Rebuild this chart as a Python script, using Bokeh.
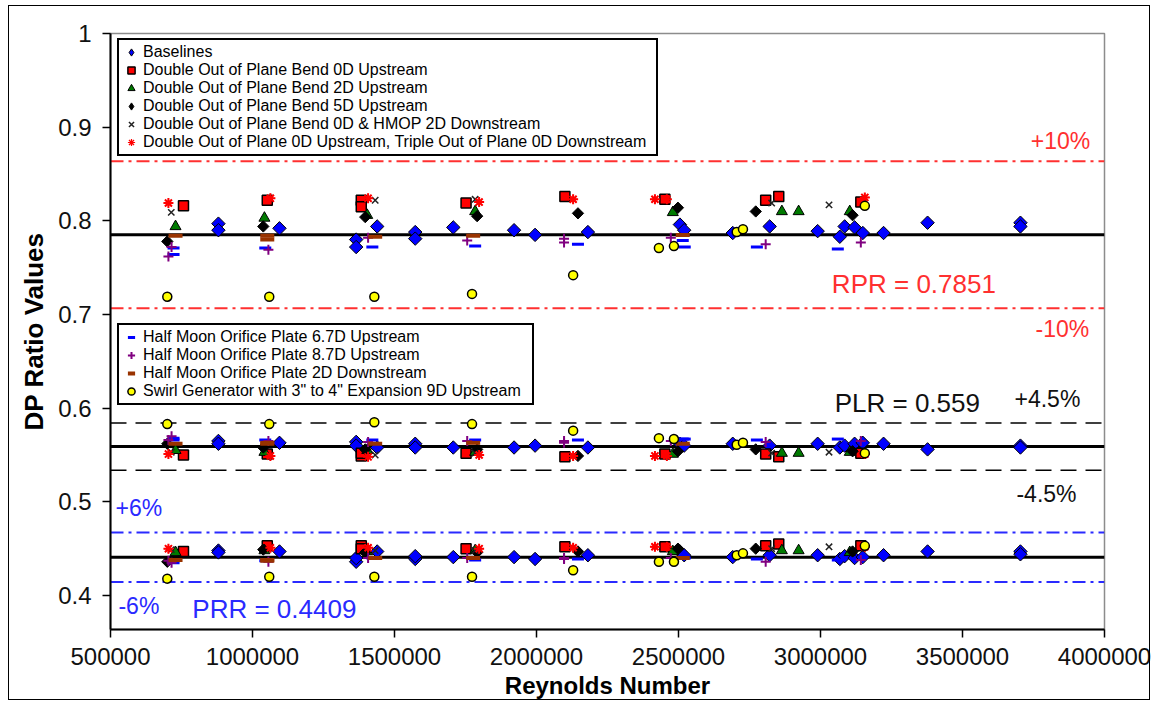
import numpy as np
from bokeh.plotting import figure
from bokeh.models import (ColumnDataSource, Span, Label, Legend, LegendItem,
                          FixedTicker, Range1d, InlineStyleSheet)
from bokeh.embed import file_html
from bokeh.resources import INLINE

# ---------------- reference values ----------------
RPR = 0.7851
PLR = 0.559
PRR = 0.4409
RPR_TOL = 0.10
PLR_TOL = 0.045
PRR_TOL = 0.06

x_ticks = [500000, 1000000, 1500000, 2000000, 2500000, 3000000, 3500000, 4000000]
x_tick_labels = ["500000", "1000000", "1500000", "2000000", "2500000", "3000000", "3500000", "4000000"]
y_ticks = [0.4, 0.5, 0.6, 0.7, 0.8, 0.9, 1.0]
y_tick_labels = ["0.4", "0.5", "0.6", "0.7", "0.8", "0.9", "1"]

# ---------------- series (Reynolds number, RPR / PLR / PRR ratio groups) ----------------
baseline_re = [880000, 880000, 1095000, 1365000, 1365000, 1439000, 1573000, 1573000, 1707000, 1921000,
               1995000, 2181000, 2505000, 2520000, 2691000, 2821000, 2990000, 3068000, 3085000, 3120000,
               3149000, 3222000, 3377000, 3704000, 3704000]
baseline_rpr = [0.797, 0.790, 0.792, 0.780, 0.772, 0.794, 0.788, 0.781, 0.793, 0.790,
                0.785, 0.788, 0.796, 0.790, 0.787, 0.794, 0.789, 0.783, 0.794, 0.793,
                0.787, 0.787, 0.798, 0.798, 0.794]
baseline_plr = [0.565, 0.562, 0.563, 0.564, 0.560, 0.558, 0.562, 0.558, 0.558, 0.558,
                0.560, 0.558, 0.562, 0.560, 0.562, 0.560, 0.562, 0.558, 0.560, 0.562,
                0.563, 0.562, 0.556, 0.560, 0.558]
baseline_prr = [0.448, 0.446, 0.447, 0.436, 0.440, 0.447, 0.439, 0.442, 0.441, 0.441,
                0.439, 0.443, 0.447, 0.443, 0.441, 0.443, 0.443, 0.439, 0.442, 0.440,
                0.441, 0.443, 0.447, 0.447, 0.444]

bend0d_re = [757000, 1052000, 1383000, 1383000, 1752000, 2100000, 2452000, 2807000, 2853000, 3142000]
bend0d_rpr = [0.816, 0.822, 0.822, 0.815, 0.819, 0.826, 0.823, 0.822, 0.826, 0.820]
bend0d_plr = [0.550, 0.551, 0.549, 0.552, 0.552, 0.548, 0.551, 0.551, 0.548, 0.552]
bend0d_prr = [0.447, 0.453, 0.453, 0.450, 0.450, 0.452, 0.452, 0.453, 0.455, 0.453]

bend2d_re = [729000, 1042000, 1404000, 1784000, 2480000, 2864000, 2923000, 3103000]
bend2d_rpr = [0.794, 0.803, 0.806, 0.810, 0.809, 0.810, 0.810, 0.810]
bend2d_plr = [0.555, 0.553, 0.555, 0.553, 0.551, 0.552, 0.552, 0.553]
bend2d_prr = [0.446, 0.448, 0.447, 0.448, 0.447, 0.448, 0.448, 0.446]

bend5d_re = [700000, 1038000, 1397000, 1791000, 2146000, 2498000, 2772000, 3113000]
bend5d_rpr = [0.778, 0.794, 0.804, 0.805, 0.808, 0.814, 0.810, 0.806]
bend5d_plr = [0.562, 0.558, 0.556, 0.556, 0.549, 0.554, 0.556, 0.554]
bend5d_prr = [0.436, 0.449, 0.446, 0.446, 0.447, 0.450, 0.450, 0.447]

hmop_bend_re = [714000, 1432000, 1784000, 2828000, 3030000]
hmop_bend_rpr = [0.809, 0.822, 0.823, 0.819, 0.817]
hmop_bend_plr = [0.553, 0.550, 0.552, 0.552, 0.553]
hmop_bend_prr = [0.449, 0.448, 0.448, 0.450, 0.452]

triple_re = [704000, 1063000, 1407000, 1798000, 2129000, 2417000, 2459000, 3156000]
triple_rpr = [0.819, 0.824, 0.824, 0.820, 0.823, 0.823, 0.823, 0.825]
triple_plr = [0.551, 0.549, 0.548, 0.550, 0.549, 0.549, 0.549, 0.551]
triple_prr = [0.450, 0.451, 0.451, 0.450, 0.451, 0.452, 0.452, 0.452]

hm67_re = [722000, 722000, 1045000, 1422000, 1784000, 2146000, 2515000, 2522000, 2776000, 3061000]
hm67_rpr = [0.771, 0.764, 0.771, 0.772, 0.773, 0.775, 0.779, 0.772, 0.772, 0.770]
hm67_plr = [0.568, 0.566, 0.566, 0.566, 0.566, 0.566, 0.567, 0.567, 0.566, 0.567]
hm67_prr = [0.435, 0.437, 0.437, 0.440, 0.438, 0.439, 0.440, 0.440, 0.439, 0.438]

hm87_re = [715000, 704000, 1056000, 1407000, 1756000, 2097000, 2097000, 2473000, 2807000, 3142000]
hm87_rpr = [0.772, 0.762, 0.769, 0.782, 0.779, 0.781, 0.777, 0.782, 0.775, 0.777]
hm87_plr = [0.570, 0.566, 0.565, 0.564, 0.565, 0.565, 0.563, 0.565, 0.564, 0.565]
hm87_prr = [0.435, 0.437, 0.436, 0.440, 0.440, 0.440, 0.439, 0.440, 0.436, 0.438]

hm2d_re = [729000, 1052000, 1052000, 1432000, 1777000, 2515000]
hm2d_rpr = [0.784, 0.784, 0.780, 0.783, 0.784, 0.785]
hm2d_plr = [0.562, 0.563, 0.562, 0.562, 0.563, 0.562]
hm2d_prr = [0.438, 0.438, 0.437, 0.440, 0.440, 0.440]

swirl_re = [700000, 1059000, 1429000, 1773000, 2129000, 2431000, 2484000, 2705000, 2727000, 3156000]
swirl_rpr = [0.719, 0.719, 0.719, 0.722, 0.742, 0.771, 0.773, 0.788, 0.791, 0.816]
swirl_plr = [0.583, 0.583, 0.585, 0.583, 0.576, 0.568, 0.567, 0.561, 0.563, 0.552]
swirl_prr = [0.418, 0.420, 0.420, 0.420, 0.427, 0.436, 0.436, 0.443, 0.445, 0.453]

FONT = "Liberation Sans"
RED = "#FF3030"
BLUE = "#2A2AFF"

p = figure(width=1159, height=707, output_backend="svg", toolbar_location=None,
           x_range=Range1d(500000, 4000000), y_range=Range1d(0.3637, 1.0),
           min_border_left=110, min_border_right=55, min_border_top=33, min_border_bottom=78)
# outer chart border (drawn over the canvas by a pseudo-element of the plot's host element)
p.stylesheets = [InlineStyleSheet(css=(
    ":host { position: relative; }\n"
    ":host::after { content: ''; position: absolute; left: 8px; top: 5px; width: 1142px; "
    "height: 695px; box-sizing: border-box; border: 1.5px solid black; "
    "pointer-events: none; z-index: 50; }"))]
p.xgrid.visible = False
p.ygrid.visible = False
p.outline_line_color = "#8c8c8c"
p.outline_line_width = 1.5
p.background_fill_color = "white"
p.border_fill_color = "white"

p.xaxis.ticker = FixedTicker(ticks=x_ticks)
p.yaxis.ticker = FixedTicker(ticks=y_ticks)
p.xaxis.major_label_overrides = dict(zip(x_ticks, x_tick_labels))
p.yaxis.major_label_overrides = dict(zip(y_ticks, y_tick_labels))
p.xaxis.axis_label = "Reynolds Number"
p.yaxis.axis_label = "DP Ratio Values"
for ax in (p.xaxis[0], p.yaxis[0]):
    ax.axis_line_color = "black"
    ax.axis_line_width = 2
    ax.major_tick_line_color = "black"
    ax.major_tick_line_width = 1.5
    ax.major_tick_in = 0
    ax.major_tick_out = 8
    ax.minor_tick_line_color = None
    ax.major_label_text_font = FONT
    ax.major_label_text_font_size = "24px"
    ax.major_label_text_color = "#111111"
    ax.axis_label_text_font = FONT
    ax.axis_label_text_font_style = "bold"
    ax.axis_label_text_color = "black"
p.xaxis.major_label_standoff = 10
p.xaxis.axis_label_standoff = 4
p.xaxis.axis_label_text_font_size = "24px"
p.yaxis.major_label_standoff = 11
p.yaxis.axis_label_standoff = 6
p.yaxis.axis_label_text_font_size = "26px"

# reference lines
def span(loc, color, width, dash="solid"):
    p.add_layout(Span(location=loc, dimension="width", line_color=color,
                      line_width=width, line_dash=dash, level="underlay"))

span(RPR, "black", 3)
span(PLR, "black", 3)
span(PRR, "black", 3)
span(RPR * (1 + RPR_TOL), RED, 2, "13 5 3 5")
span(RPR * (1 - RPR_TOL), RED, 2, "13 5 3 5")
span(PLR * (1 + PLR_TOL), "black", 1.5, "16 9")
span(PLR * (1 - PLR_TOL), "black", 1.5, "16 9")
span(PRR * (1 + PRR_TOL), BLUE, 2, "13 5 3 5")
span(PRR * (1 - PRR_TOL), BLUE, 2, "13 5 3 5")

def src(re, a, b, c):
    return ColumnDataSource(dict(x=list(re) * 3, y=list(a) + list(b) + list(c)))

s_base = src(baseline_re, baseline_rpr, baseline_plr, baseline_prr)
s_b5 = src(bend5d_re, bend5d_rpr, bend5d_plr, bend5d_prr)
s_tr = src(triple_re, triple_rpr, triple_plr, triple_prr)

# legend-key glyphs: same points, smaller and drawn underneath the visible markers
k_base = p.scatter("x", "y", source=s_base, marker="diamond", size=10,
                   fill_color="#0000FF", line_color="black", line_width=1)
k_b5 = p.scatter("x", "y", source=s_b5, marker="diamond", size=8,
                 fill_color="black", line_color="black", line_width=1)
k_tr = p.scatter("x", "y", source=s_tr, marker="asterisk", size=9,
                 line_color="#FF0000", line_width=1.2)

rot = np.pi / 4
r_base = p.scatter("x", "y", source=s_base,
                   marker="square", angle=rot, size=9.5, fill_color="#0000FF",
                   line_color="black", line_width=1)
r_b0 = p.scatter("x", "y", source=src(bend0d_re, bend0d_rpr, bend0d_plr, bend0d_prr),
                 marker="square", size=10, fill_color="#FF0000", line_color="black", line_width=1.5)
r_b2 = p.scatter("x", "y", source=src(bend2d_re, bend2d_rpr, bend2d_plr, bend2d_prr),
                 marker="triangle", size=11, fill_color="#007A00", line_color="black", line_width=1)
r_b5 = p.scatter("x", "y", source=s_b5,
                 marker="square", angle=rot, size=8, fill_color="black", line_color="black", line_width=1)
r_hb = p.scatter("x", "y", source=src(hmop_bend_re, hmop_bend_rpr, hmop_bend_plr, hmop_bend_prr),
                 marker="x", size=9, line_color="#222222", line_width=1.5)
r_tr = p.scatter("x", "y", source=s_tr,
                 marker="asterisk", size=10, line_color="#FF0000", line_width=2)
r_h67 = p.scatter("x", "y", source=src(hm67_re, hm67_rpr, hm67_plr, hm67_prr),
                  marker="dash", size=12, line_color="#0000FF", line_width=3)
r_h87 = p.scatter("x", "y", source=src(hm87_re, hm87_rpr, hm87_plr, hm87_prr),
                  marker="cross", size=10, line_color="#800080", line_width=2)
r_h2d = p.scatter("x", "y", source=src(hm2d_re, hm2d_rpr, hm2d_plr, hm2d_prr),
                  marker="dash", size=14, line_color="#993300", line_width=4)
r_sw = p.scatter("x", "y", source=src(swirl_re, swirl_rpr, swirl_plr, swirl_prr),
                 marker="circle", size=9, fill_color="#FFFF00", line_color="black", line_width=1.5)

def make_legend(items, loc, label_width):
    leg = Legend(items=[LegendItem(label=l, renderers=[r]) for l, r in items], location=loc,
                 label_text_font=FONT, label_text_font_size="16px", label_text_color="black",
                 label_height=18, glyph_height=18, glyph_width=18, label_standoff=3,
                 label_width=label_width, spacing=0, padding=3, margin=0,
                 border_line_color="black", border_line_width=2, border_line_alpha=1,
                 background_fill_color="white", background_fill_alpha=1)
    p.add_layout(leg, "center")

make_legend([("Baselines", k_base),
             ("Double Out of Plane Bend 0D Upstream", r_b0),
             ("Double Out of Plane Bend 2D Upstream", r_b2),
             ("Double Out of Plane Bend 5D Upstream", k_b5),
             ("Double Out of Plane Bend 0D & HMOP 2D Downstream", r_hb),
             ("Double Out of Plane 0D Upstream, Triple Out of Plane 0D Downstream", k_tr)],
            (7, 473), 510)
make_legend([("Half Moon Orifice Plate 6.7D Upstream", r_h67),
             ("Half Moon Orifice Plate 8.7D Upstream", r_h87),
             ("Half Moon Orifice Plate 2D Downstream", r_h2d),
             ("Swirl Generator with 3\" to 4\" Expansion 9D Upstream", r_sw)],
            (7, 224), 386)

def label(x, y, text, color, size, align="left"):
    p.add_layout(Label(x=x, y=y, text=text, text_color=color, text_font=FONT,
                       text_font_size=size, text_align=align, text_baseline="middle"))

label(3950000, 0.885, "+10%", RED, "23px", "right")
label(3946000, 0.684, "-10%", RED, "23px", "right")
label(3040000, 0.733, "RPR = 0.7851", RED, "26px")
label(3050000, 0.605, "PLR = 0.559", "#111111", "26px")
label(3683000, 0.610, "+4.5%", "#111111", "23px")
label(3690000, 0.508, "-4.5%", "#111111", "23px")
label(517600, 0.493, "+6%", BLUE, "23px")
label(528000, 0.3885, "-6%", BLUE, "23px")
label(788000, 0.386, "PRR = 0.4409", BLUE, "26px")

open("out.html", "w").write(file_html(p, INLINE))
